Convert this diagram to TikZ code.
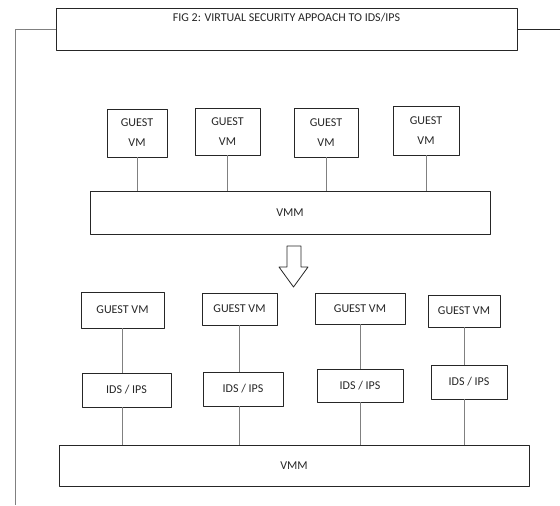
\documentclass[tikz,border=0pt]{standalone}
\usepackage{fontspec}
\setmainfont{Carlito}
\begin{document}
\begin{tikzpicture}[x=1pt,y=-1pt, font=\fontsize{12}{20}\selectfont, line join=round,
	box/.style={draw=black!85, line width=.8pt, inner sep=0pt, text=black!85, align=center},
	wire/.style={draw=black!50, line width=.8pt}]
	\useasboundingbox (0,0) rectangle (560,506);
	% Tiêu đề
	\node[box, minimum width=461, minimum height=42,
		label={[anchor=north, inner sep=0pt, text=black!85, yshift=-5pt]north:FIG 2: VIRTUAL SECURITY APPOACH TO IDS/IPS}] (title) at (286.5,29) {};
	\coordinate (lb) at (15,505);
	\coordinate (re) at (560,32);
	\draw[wire] (title.west) -- (title.west -| lb) -- (lb);
	\draw[box] (title.east) -- (title.east -| re);
	% Hàng trên
	\node[box, minimum width=60, minimum height=48] (t1) at (137,133) {GUEST\\VM};
	\node[box, minimum width=65, minimum height=47] (t2) at (227.5,131.5) {GUEST\\VM};
	\node[box, minimum width=64, minimum height=49] (t3) at (326,132.5) {GUEST\\VM};
	\node[box, minimum width=66, minimum height=49] (t4) at (426,130.5) {GUEST\\VM};
	\node[box, minimum width=400, minimum height=43] (vmmA) at (290,212.5) {VMM};
	\foreach \i in {1,...,4}
		\draw[wire] (t\i.south) -- (t\i.south |- vmmA.north);
	% Mũi tên
	\draw[box] (287,246) -- (301,246) -- (301,267) -- (308,267) -- (293.5,287)
		-- (279,267) -- (287,267) -- cycle;
	% Hàng dưới
	\node[box, minimum width=83, minimum height=36] (g1) at (122.5,310) {GUEST VM};
	\node[box, minimum width=75, minimum height=32] (g2) at (239.5,309) {GUEST VM};
	\node[box, minimum width=90, minimum height=31] (g3) at (360,308.5) {GUEST VM};
	\node[box, minimum width=72, minimum height=32] (g4) at (464,311) {GUEST VM};
	\node[box, minimum width=89, minimum height=34] (i1) at (126.5,390) {IDS / IPS};
	\node[box, minimum width=80, minimum height=34] (i2) at (243,389) {IDS / IPS};
	\node[box, minimum width=86, minimum height=33] (i3) at (360,385.5) {IDS / IPS};
	\node[box, minimum width=76, minimum height=34] (i4) at (469,382) {IDS / IPS};
	\node[box, minimum width=470, minimum height=41] (vmmB) at (294,465.5) {VMM};
	\foreach \i in {1,...,4}{
		\draw[wire] (g\i.south) -- (g\i.south |- i\i.north);
		\draw[wire] (g\i.south |- i\i.south) -- (g\i.south |- vmmB.north);
	}
\end{tikzpicture}
\end{document}
